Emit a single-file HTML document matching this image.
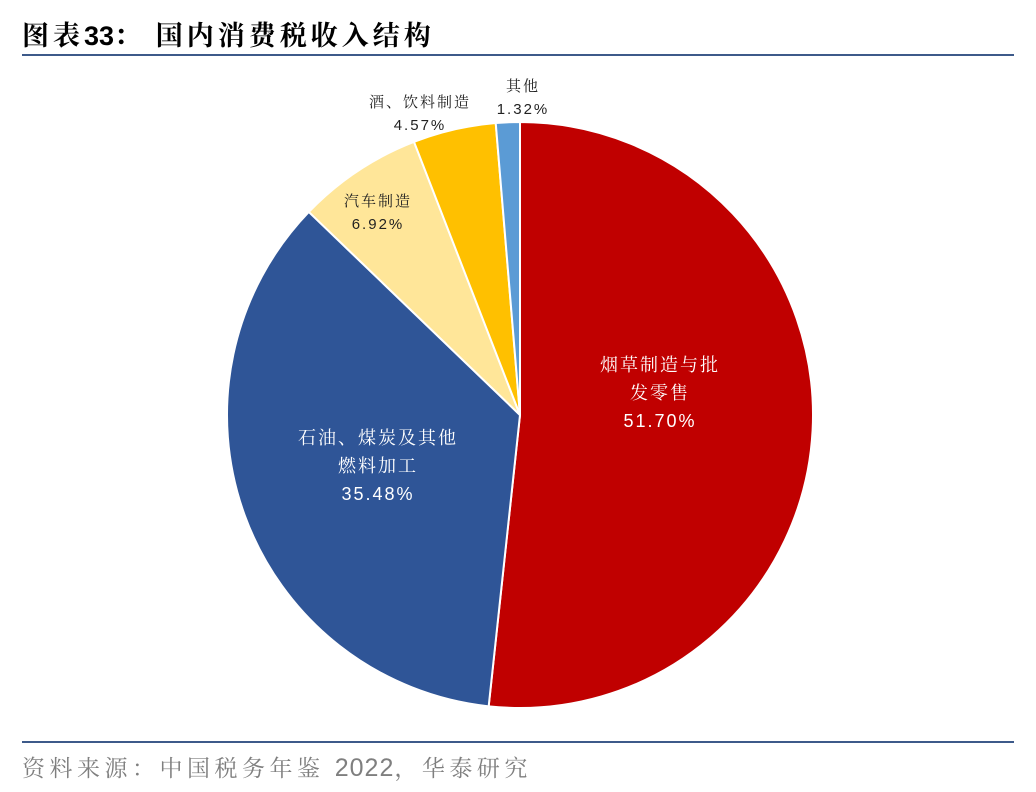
<!DOCTYPE html>
<html><head><meta charset="utf-8"><style>
body{margin:0;width:1036px;height:792px;background:#fff;position:relative;font-family:"Liberation Serif","Noto Serif CJK SC",serif;overflow:hidden}
#title{position:absolute;left:22px;top:14px;font-size:27px;font-weight:bold;color:#000;letter-spacing:4px;white-space:nowrap}
#src{position:absolute;left:22px;top:750px;font-size:23px;color:#7f7f7f;letter-spacing:4.5px;white-space:nowrap}
.rule{position:absolute;left:22px;width:992px;height:2px;background:#3d5a8a}
</style></head><body>
<div id="title">图表<span style="font-family:'Liberation Sans',sans-serif;letter-spacing:0">33</span>：&nbsp;国内消费税收入结构</div>
<div class="rule" style="top:54px"></div>
<div class="rule" style="top:741px"></div>
<div id="src">资料来源：中国税务年鉴 <span style="font-family:'Liberation Sans',sans-serif;letter-spacing:1px;font-size:25px">2022</span>，华泰研究</div>
<svg id="pie" width="1036" height="792" style="position:absolute;left:0;top:0"></svg>
<script>
const categories=["烟草制造与批发零售","石油、煤炭及其他燃料加工","汽车制造","酒、饮料制造","其他"];
const values=[51.70,35.48,6.92,4.57,1.32];
const colors=["#C00000","#2F5597","#FFE699","#FFC000","#5B9BD5"];
const labelLines=[["烟草制造与批","发零售"],["石油、煤炭及其他","燃料加工"],["汽车制造"],["酒、饮料制造"],["其他"]];
const labelPos=[[660,392],[378,465],[378,212],[420,113],[523,97]];
const ns="http://www.w3.org/2000/svg";
const svg=document.getElementById('pie');
const cx=520,cy=415,r=293;
const total=values.reduce((a,b)=>a+b,0);
function pt(a,rr){return [cx+rr*Math.sin(a),cy-rr*Math.cos(a)];}
let acc=0;
values.forEach((v,i)=>{
  const a0=acc/total*2*Math.PI;acc+=v;const a1=acc/total*2*Math.PI;
  const p0=pt(a0,r),p1=pt(a1,r);
  const path=document.createElementNS(ns,'path');
  path.setAttribute('d',`M${cx},${cy}L${p0[0]},${p0[1]}A${r},${r} 0 ${a1-a0>Math.PI?1:0} 1 ${p1[0]},${p1[1]}Z`);
  path.setAttribute('fill',colors[i]);path.setAttribute('stroke','#fff');path.setAttribute('stroke-width','2');
  
  
  svg.appendChild(path);
  const inside=i<2;
  const lp=labelPos[i];
  const lines=labelLines[i].concat([v.toFixed(2)+'%']);
  const fs=inside?18:15,lh=inside?28:23;
  const y0=lp[1]-(lines.length-1)*lh/2;
  lines.forEach((t,k)=>{
    const tx=document.createElementNS(ns,'text');
    tx.setAttribute('x',lp[0]);tx.setAttribute('y',y0+k*lh+fs*0.38);
    tx.setAttribute('text-anchor','middle');tx.setAttribute('font-size',fs);
    tx.setAttribute('fill',inside?'#fff':'#222');
    tx.setAttribute('font-family','"Liberation Sans","Noto Serif CJK SC",serif');
    tx.setAttribute('letter-spacing','2');
    tx.textContent=t;
    
    
    svg.appendChild(tx);
  });
});
</script>
</body></html>
